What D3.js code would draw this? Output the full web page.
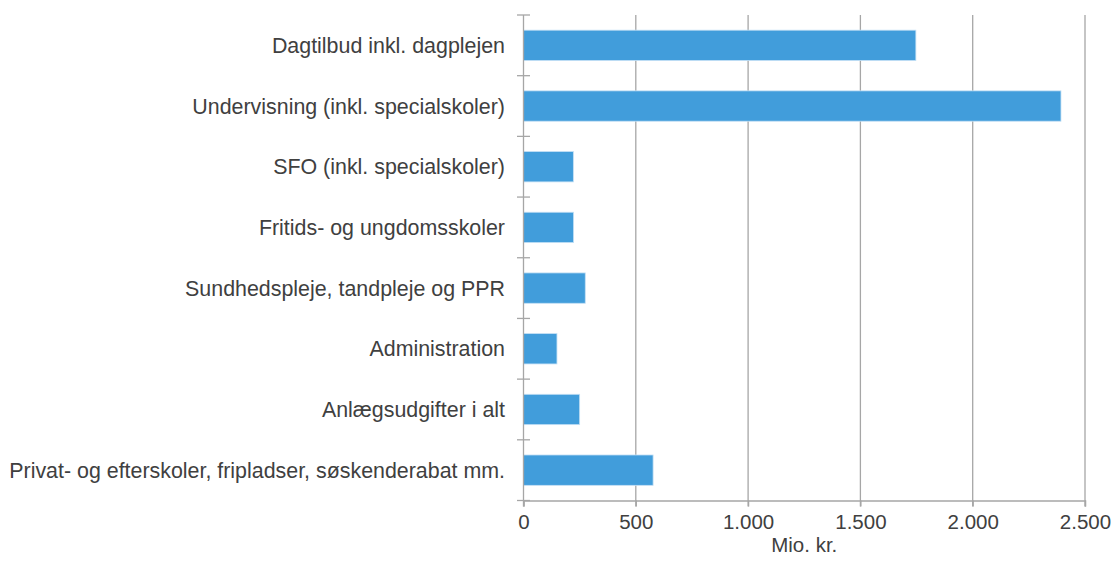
<!DOCTYPE html>
<html>
<head>
<meta charset="utf-8">
<script src="https://cdn.jsdelivr.net/npm/d3@7"></script>
<style>
  html, body { margin: 0; padding: 0; background: #ffffff; }
  svg { display: block; }
  text { font-family: "Liberation Sans", Arial, sans-serif; fill: #404040; }
</style>
</head>
<body>
<svg id="chart" width="1112" height="563"></svg>
<script>
const categories = [
  "Dagtilbud inkl. dagplejen",
  "Undervisning (inkl. specialskoler)",
  "SFO (inkl. specialskoler)",
  "Fritids- og ungdomsskoler",
  "Sundhedspleje, tandpleje og PPR",
  "Administration",
  "Anlægsudgifter i alt",
  "Privat- og efterskoler, fripladser, søskenderabat mm."
];
const values = [1747, 2393, 222, 223, 275, 149, 250, 577];
const xTicks = [0, 500, 1000, 1500, 2000, 2500];
const xTitle = "Mio. kr.";

const svg = d3.select("#chart");
const margin = { left: 523.5, right: 27, top: 15, bottom: 62.5 };
const W = 1112, H = 563;
const x = d3.scaleLinear().domain([0, 2500]).range([margin.left, W - margin.right]);
const y = d3.scaleBand().domain(categories).range([margin.top, H - margin.bottom]).paddingInner(0.5).paddingOuter(0.25);

const loc = d3.formatLocale({ decimal: ",", thousands: ".", grouping: [3], currency: ["", ""] });
const fmt = loc.format(",.0f");
const gridColor = "#a6a6a6";
const fontSize = "20.5px";
const catFontSize = "21.4px";

// gridlines
svg.append("g").selectAll("line").data(xTicks.slice(1)).join("line")
  .attr("x1", d => x(d)).attr("x2", d => x(d))
  .attr("y1", margin.top).attr("y2", H - margin.bottom + 6)
  .attr("stroke", gridColor).attr("stroke-width", 1.3);

// bars
svg.append("g").selectAll("rect").data(categories).join("rect")
  .attr("x", x(0))
  .attr("y", (d) => y(d))
  .attr("width", (d, i) => x(values[i]) - x(0))
  .attr("height", y.bandwidth())
  .attr("fill", "#419ddb")
  .attr("stroke", "#c4e0f5").attr("stroke-width", 0.8);

// x axis
const xAxis = d3.axisBottom(x).tickValues(xTicks).tickFormat(fmt).tickSize(6).tickPadding(8);
const gx = svg.append("g").attr("transform", `translate(0,${H - margin.bottom})`).call(xAxis);
gx.select(".domain").attr("stroke", gridColor).attr("stroke-width", 1.3);
gx.selectAll(".tick line").attr("stroke", gridColor).attr("stroke-width", 1.3);
gx.selectAll(".tick text").style("font-size", fontSize).attr("fill", "#404040")
  .style("font-family", "'Liberation Sans', Arial, sans-serif");

// y axis line and category boundary ticks
const yBounds = d3.range(categories.length + 1).map(i => y.range()[0] + i * y.step());
svg.append("line")
  .attr("x1", x(0)).attr("x2", x(0))
  .attr("y1", margin.top).attr("y2", H - margin.bottom + 6)
  .attr("stroke", gridColor).attr("stroke-width", 1.3);
svg.append("g").selectAll("line").data(yBounds).join("line")
  .attr("x1", x(0) - 6.5).attr("x2", x(0) + 6.5)
  .attr("y1", d => d).attr("y2", d => d)
  .attr("stroke", gridColor).attr("stroke-width", 1.3);

// category labels
svg.append("g").selectAll("text").data(categories).join("text")
  .attr("x", x(0) - 18.5)
  .attr("y", d => y(d) + y.bandwidth() / 2)
  .attr("dy", "0.35em")
  .attr("text-anchor", "end")
  .style("font-size", catFontSize)
  .text(d => d);

// x title
svg.append("text")
  .attr("x", (x.range()[0] + x.range()[1]) / 2)
  .attr("y", 551.5)
  .attr("text-anchor", "middle")
  .style("font-size", fontSize)
  .text(xTitle);
</script>
</body>
</html>
